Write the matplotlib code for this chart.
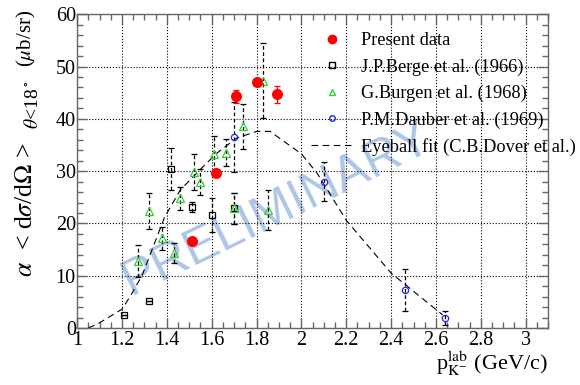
import matplotlib.pyplot as plt
from matplotlib.lines import Line2D

plt.rcParams['font.family'] = ['Liberation Serif', 'DejaVu Serif']
plt.rcParams['mathtext.fontset'] = 'stix'

# Present data
p_x = [1.51, 1.62, 1.71, 1.80, 1.89]
p_y = [16.6, 29.6, 44.3, 47.0, 44.7]
p_err = [0.0, 0.0, 1.3, 0.8, 1.6]

# J.P.Berge et al. (1966)
b_x = [1.21, 1.32, 1.42, 1.51, 1.60, 1.70]
b_y = [2.4, 5.2, 30.4, 23.1, 21.6, 22.9]
b_err = [0.0, 0.0, 4.1, 1.0, 3.2, 3.0]

# G.Burgen et al. (1968)
g_x = [1.27, 1.32, 1.38, 1.43, 1.46, 1.52, 1.55, 1.61, 1.665, 1.70, 1.74, 1.83, 1.85]
g_y = [12.8, 22.4, 17.2, 14.3, 24.8, 29.8, 27.9, 33.3, 33.5, 22.9, 38.6, 47.3, 22.6]
g_err = [3.0, 3.4, 2.2, 1.9, 2.2, 3.5, 2.5, 3.5, 2.6, 3.0, 4.3, 7.2, 3.8]

# P.M.Dauber et al. (1969)
d_x = [1.70, 2.10, 2.46, 2.64]
d_y = [36.5, 28.0, 7.3, 1.9]
d_err = [6.7, 3.8, 4.0, 1.3]

# Eyeball fit (C.B.Dover et al.)
f_x = [1.05, 1.10, 1.20, 1.24, 1.29, 1.39, 1.46, 1.56, 1.625, 1.71, 1.80, 1.86, 2.0, 2.07, 2.2, 2.4, 2.63]
f_y = [0.0, 1.0, 3.6, 6.3, 10.1, 21.2, 26.4, 30.8, 33.5, 36.3, 37.6, 37.6, 33.3, 29.6, 20.6, 10.5, 2.5]

fig = plt.figure(figsize=(5.8, 3.85), dpi=100)
ax = fig.add_axes([0.133, 0.148, 0.812, 0.815])

ax.grid(True, which='major', color='black', linestyle=':', linewidth=0.8)
ax.set_axisbelow(True)

ax.text(1.89, 22.8, 'PRELIMINARY', fontsize=36, family='Liberation Sans',
        color='#adc6e6', rotation=26, ha='center', va='center', zorder=0.5)

ax.plot(f_x, f_y, color='black', linestyle=(0, (6, 4)), linewidth=0.8, zorder=2)

def draw(x, y, err, fmt, color, ms, mfc, ecolor, dashed=True):
    eb = ax.errorbar(x, y, yerr=err, fmt=fmt, color=color, ms=ms, mfc=mfc,
                     mec=color, mew=0.9, ecolor=ecolor, elinewidth=0.9,
                     capsize=2.5, capthick=0.9, zorder=3)
    if dashed:
        eb[2][0].set_linestyle((0, (3, 2)))

draw(b_x, b_y, b_err, 's', 'black', 5, 'none', 'black')
draw(g_x, g_y, g_err, '^', '#33cc33', 5.5, 'none', 'black')
draw(d_x, d_y, d_err, 'o', '#2222ee', 4.5, 'none', 'black')
draw(p_x, p_y, p_err, 'o', 'red', 7, 'red', 'red', dashed=False)

ax.set_xlim(1, 3.1)
ax.set_ylim(0, 60)
ax.set_xticks([1, 1.2, 1.4, 1.6, 1.8, 2, 2.2, 2.4, 2.6, 2.8, 3])
ax.set_xticklabels(['1', '1.2', '1.4', '1.6', '1.8', '2', '2.2', '2.4', '2.6', '2.8', '3'])
ax.set_xticks([1 + 0.05 * i for i in range(43)], minor=True)
ax.set_yticks([0, 10, 20, 30, 40, 50, 60])
ax.set_yticks(range(0, 61, 2), minor=True)

ax.tick_params(which='both', direction='in', top=True, right=True,
               labelsize=14.5, color='0.4')
ax.tick_params(which='major', length=7, width=1)
ax.tick_params(which='minor', length=4, width=1)
ax.tick_params(axis='x', pad=2)
ax.tick_params(axis='y', pad=1)
for s in ax.spines.values():
    s.set_color('0.4')
    s.set_linewidth(1)

# y title in three pieces (ROOT-like sizes)
fig.text(26 / 580, 1 - 277 / 385, r'$\alpha$  < d$\sigma$/d$\Omega$ >', fontsize=18.5,
         rotation=90, ha='center', va='bottom')
fig.text(33 / 580, 1 - 129 / 385, r'$\theta$<18$^\circ$', fontsize=14,
         rotation=90, ha='center', va='bottom')
fig.text(26 / 580, 1 - 10 / 385, r'($\mu$b/sr)', fontsize=15,
         rotation=90, ha='center', va='top')

ax.set_xlabel(r'p$^{\rm lab}_{\rm K^{-}}$ (GeV/c)', fontsize=16, loc='right')
ax.xaxis.set_label_coords(1.0, -0.065)

handles = [
    Line2D([], [], ls='none', marker='o', color='red', ms=6),
    Line2D([], [], ls='none', marker='s', color='black', mfc='none', ms=4),
    Line2D([], [], ls='none', marker='^', color='#33cc33', mfc='none', ms=4),
    Line2D([], [], ls='none', marker='o', color='#2222ee', mfc='none', ms=4),
    Line2D([], [], color='black', linestyle=(0, (6, 4)), linewidth=0.8),
]
labels = ['Present data', 'J.P.Berge et al. (1966)', 'G.Burgen et al. (1968)',
          'P.M.Dauber et al. (1969)', 'Eyeball fit (C.B.Dover et al.)']
ax.legend(handles, labels, loc='upper left', bbox_to_anchor=(0.496, 0.943),
          frameon=False, fontsize=13.2, handlelength=2.3, handletextpad=0.42,
          borderpad=0, borderaxespad=0, labelspacing=0.5)

fig.savefig('out.png', dpi=100)
